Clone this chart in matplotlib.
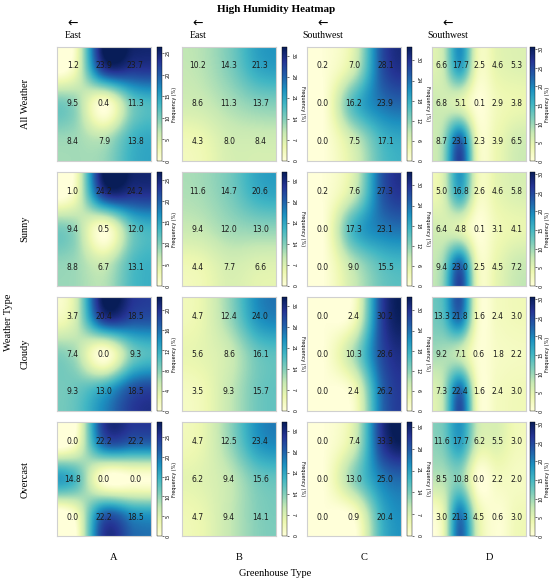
import numpy as np
import matplotlib
matplotlib.use("Agg")
from matplotlib import pyplot as plt
from matplotlib.ticker import MultipleLocator

# Frequency (%) per greenhouse type / weather type
a_all = [[1.2, 23.9, 23.7], [9.5, 0.4, 11.3], [8.4, 7.9, 13.8]]
a_sunny = [[1.0, 24.2, 24.2], [9.4, 0.5, 12.0], [8.8, 6.7, 13.1]]
a_cloudy = [[3.7, 20.4, 18.5], [7.4, 0.0, 9.3], [9.3, 13.0, 18.5]]
a_overcast = [[0.0, 22.2, 22.2], [14.8, 0.0, 0.0], [0.0, 22.2, 18.5]]

b_all = [[10.2, 14.3, 21.3], [8.6, 11.3, 13.7], [4.3, 8.0, 8.4]]
b_sunny = [[11.6, 14.7, 20.6], [9.4, 12.0, 13.0], [4.4, 7.7, 6.6]]
b_cloudy = [[4.7, 12.4, 24.0], [5.6, 8.6, 16.1], [3.5, 9.3, 15.7]]
b_overcast = [[4.7, 12.5, 23.4], [6.2, 9.4, 15.6], [4.7, 9.4, 14.1]]

c_all = [[0.2, 7.0, 28.1], [0.0, 16.2, 23.9], [0.0, 7.5, 17.1]]
c_sunny = [[0.2, 7.6, 27.3], [0.0, 17.3, 23.1], [0.0, 9.0, 15.5]]
c_cloudy = [[0.0, 2.4, 30.2], [0.0, 10.3, 28.6], [0.0, 2.4, 26.2]]
c_overcast = [[0.0, 7.4, 33.3], [0.0, 13.0, 25.0], [0.0, 0.9, 20.4]]

d_all = [[6.6, 17.7, 2.5, 4.6, 5.3], [6.8, 5.1, 0.1, 2.9, 3.8], [8.7, 23.1, 2.3, 3.9, 6.5]]
d_sunny = [[5.0, 16.8, 2.6, 4.6, 5.8], [6.4, 4.8, 0.1, 3.1, 4.1], [9.4, 23.0, 2.5, 4.5, 7.2]]
d_cloudy = [[13.3, 21.8, 1.6, 2.4, 3.0], [9.2, 7.1, 0.6, 1.8, 2.2], [7.3, 22.4, 1.6, 2.4, 3.0]]
d_overcast = [[11.6, 17.7, 6.2, 5.5, 3.0], [8.5, 10.8, 0.0, 2.2, 2.0], [3.0, 21.3, 4.5, 0.6, 3.0]]

weather = ["All Weather", "Sunny", "Cloudy", "Overcast"]
greenhouse = ["A", "B", "C", "D"]
orientation = ["East", "East", "Southwest", "Southwest"]

# colour scale upper limit of each panel (row = weather, col = greenhouse)
vmax = [[26.4, 38, 34, 30.5],
        [26.8, 38, 34, 30.5],
        [22.6, 38, 34, 30.5],
        [28.8, 38, 36.6, 30.5]]
tick_step = [[5, 7, 6, 5],
             [5, 7, 6, 5],
             [4, 7, 6, 5],
             [5, 7, 7, 5]]

panels = [[a_all, b_all, c_all, d_all],
          [a_sunny, b_sunny, c_sunny, d_sunny],
          [a_cloudy, b_cloudy, c_cloudy, d_cloudy],
          [a_overcast, b_overcast, c_overcast, d_overcast]]

W, H = 550, 582
fig = plt.figure(figsize=(W / 100, H / 100), dpi=100)
serif = "Liberation Serif"


def px_axes(left, top, width, height):
    return fig.add_axes([left / W, 1 - (top + height) / H, width / W, height / H])


hm_left = [57, 182, 307, 432]
cb_left = [157, 282, 407, 530]
row_top = [47, 172, 297, 422]
hm_w, hm_h, cb_w = 94, 114, 5
cb_rot = [90, 270, 270, 90]

for i in range(4):
    for j in range(4):
        data = np.array(panels[i][j])
        ax = px_axes(hm_left[j], row_top[i], hm_w, hm_h)
        im = ax.imshow(data, cmap="YlGnBu", vmin=0, vmax=vmax[i][j],
                       interpolation="catrom", interpolation_stage="data",
                       aspect="auto")
        nr, nc = data.shape
        for r in range(nr):
            for c in range(nc):
                ax.text(c, r, f"{data[r, c]:.1f}", ha="center", va="center",
                        fontsize=5.5, color="#1a1a1a")
        ax.set_xticks([])
        ax.set_yticks([])
        for s in ax.spines.values():
            s.set_color("#d0d0d0")
            s.set_linewidth(0.8)

        cax = px_axes(cb_left[j], row_top[i], cb_w, hm_h)
        cb = fig.colorbar(im, cax=cax)
        cb.outline.set_linewidth(0.3)
        cb.locator = MultipleLocator(tick_step[i][j])
        cb.update_ticks()
        cax.tick_params(labelsize=3.5, length=1.5, width=0.4, pad=1)
        for t in cax.get_yticklabels():
            t.set_rotation(cb_rot[j])
            t.set_va("center")
        if cb_rot[j] == 270:
            cb.set_label("Frequency (%)", fontsize=3.5, rotation=270,
                         va="bottom", labelpad=3)
        else:
            cb.set_label("Frequency (%)", fontsize=3.5, rotation=90, labelpad=1)

# column headers
for j in range(4):
    x = (hm_left[j] + 16) / W
    fig.text(x, 1 - 23 / H, "\u2190", ha="center", va="center", fontsize=9,
             family="DejaVu Sans")
    fig.text(x, 1 - 36 / H, orientation[j], ha="center", va="center",
             fontsize=7, family=serif)
    fig.text((hm_left[j] + 57) / W, 1 - 558 / H, greenhouse[j], ha="center",
             va="center", fontsize=7.5, family=serif)

# row labels
for i in range(4):
    fig.text(25 / W, 1 - (row_top[i] + hm_h / 2) / H, weather[i], rotation=90,
             ha="center", va="center", fontsize=7.5, family=serif)

fig.text(9 / W, 1 - 322 / H, "Weather Type", rotation=90, ha="center",
         va="center", fontsize=7.5, family=serif)
fig.text(275 / W, 1 - 573 / H, "Greenhouse Type", ha="center", va="center",
         fontsize=7.5, family=serif)
fig.text(276 / W, 1 - 10 / H, "High Humidity Heatmap", ha="center", va="center",
         fontsize=8, fontweight="bold", family=serif)

fig.savefig("out.png", dpi=100)
